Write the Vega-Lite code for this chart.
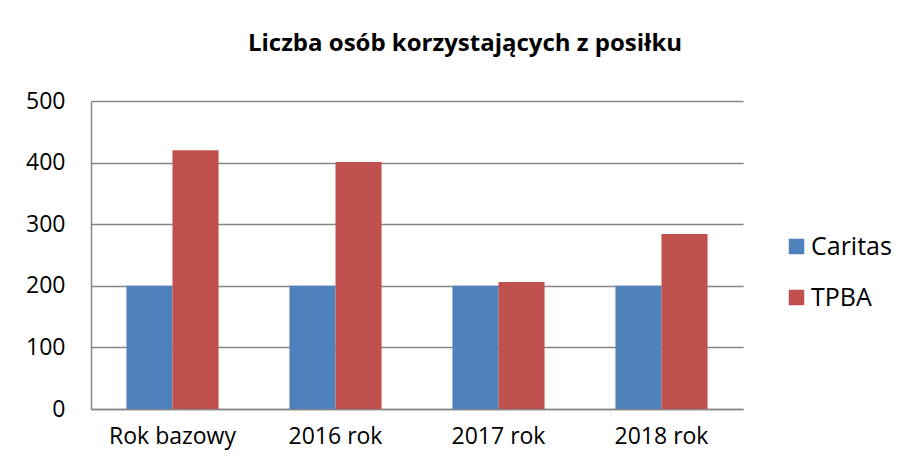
{
  "$schema": "https://vega.github.io/schema/vega-lite/v6.json",
  "width": 652,
  "height": 308,
  "autosize": {"type": "none"},
  "padding": {"left": 91, "top": 101, "right": 165, "bottom": 59},
  "background": "white",
  "config": {
    "font": "Open Sans",
    "view": {"stroke": null},
    "axis": {"labelFont": "Open Sans", "labelColor": "#000000", "labelFontSize": 23}
  },
  "title": {
    "text": "Liczba osób korzystających z posiłku",
    "font": "Open Sans",
    "fontSize": 24,
    "fontWeight": "bold",
    "color": "#000000",
    "anchor": "middle",
    "dx": 48,
    "offset": 34
  },
  "data": {
    "values": [
      {"kategoria": "Rok bazowy", "seria": "Caritas", "wartosc": 200},
      {"kategoria": "Rok bazowy", "seria": "TPBA", "wartosc": 420},
      {"kategoria": "2016 rok", "seria": "Caritas", "wartosc": 200},
      {"kategoria": "2016 rok", "seria": "TPBA", "wartosc": 401},
      {"kategoria": "2017 rok", "seria": "Caritas", "wartosc": 200},
      {"kategoria": "2017 rok", "seria": "TPBA", "wartosc": 206},
      {"kategoria": "2018 rok", "seria": "Caritas", "wartosc": 200},
      {"kategoria": "2018 rok", "seria": "TPBA", "wartosc": 284}
    ]
  },
  "mark": {"type": "bar"},
  "encoding": {
    "x": {
      "field": "kategoria",
      "type": "nominal",
      "sort": ["Rok bazowy", "2016 rok", "2017 rok", "2018 rok"],
      "scale": {"paddingInner": 0.435, "paddingOuter": 0.2175},
      "axis": {
        "title": null,
        "labelAngle": 0,
        "ticks": false,
        "domainColor": "#868686",
        "domainWidth": 1.5,
        "labelPadding": 16
      }
    },
    "xOffset": {"field": "seria", "type": "nominal", "sort": ["Caritas", "TPBA"], "scale": {"paddingInner": 0, "paddingOuter": 0}},
    "y": {
      "field": "wartosc",
      "type": "quantitative",
      "scale": {"domain": [0, 500], "nice": false},
      "axis": {
        "title": null,
        "values": [0, 100, 200, 300, 400, 500],
        "ticks": false,
        "domainColor": "#868686",
        "domainWidth": 1.5,
        "gridColor": "#868686",
        "gridWidth": 1.5,
        "labelPadding": 26
      }
    },
    "color": {
      "field": "seria",
      "type": "nominal",
      "sort": ["Caritas", "TPBA"],
      "scale": {"domain": ["Caritas", "TPBA"], "range": ["#4F81BD", "#C0504D"]},
      "legend": {
        "title": null,
        "orient": "none",
        "legendX": 693,
        "legendY": 133,
        "symbolType": "square",
        "symbolSize": 240,
        "symbolStrokeWidth": 0,
        "labelFontSize": 25,
        "labelFont": "Open Sans",
        "labelColor": "#000000",
        "labelOffset": 2,
        "rowPadding": 25
      }
    }
  }
}
